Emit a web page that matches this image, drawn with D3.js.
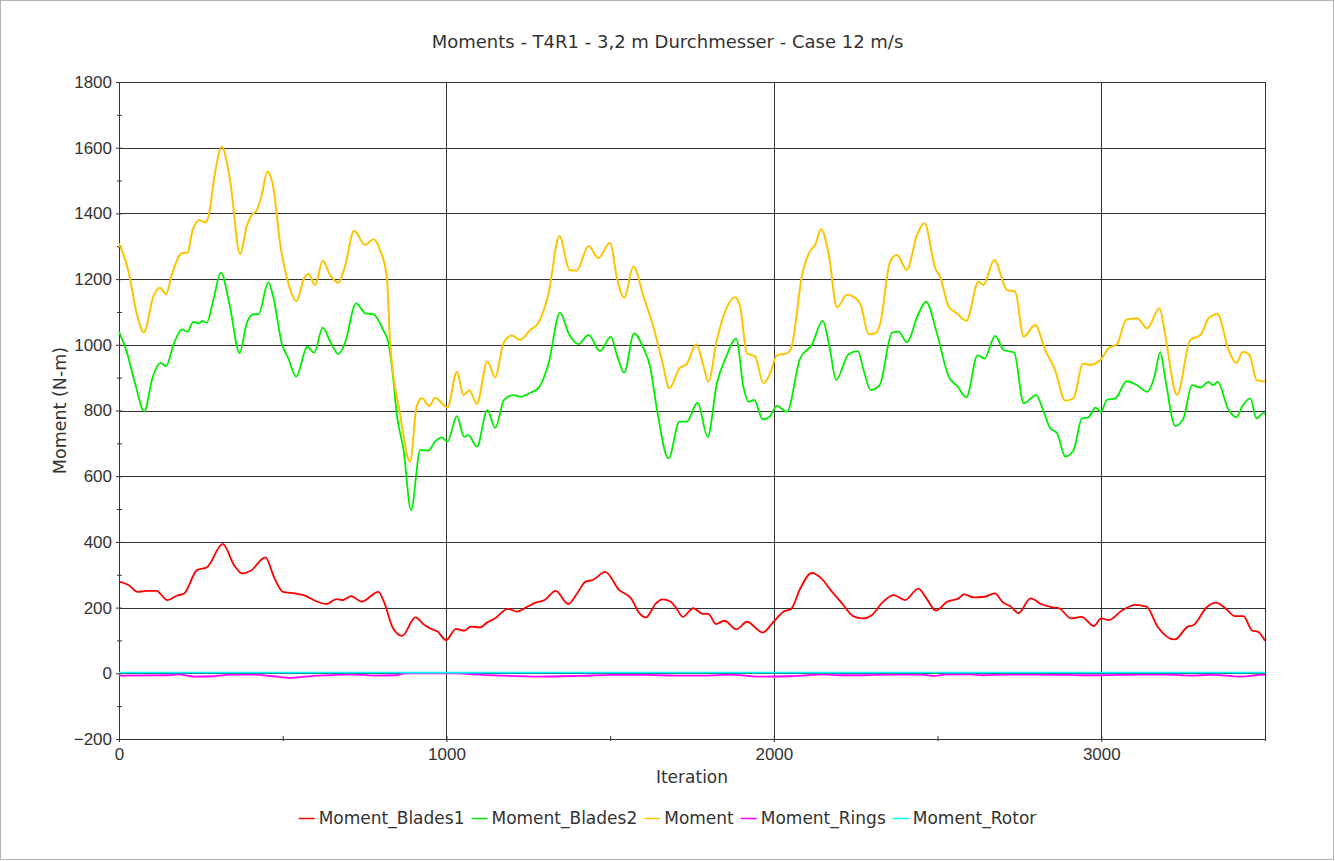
<!DOCTYPE html>
<html>
<head>
<meta charset="utf-8">
<script src="https://cdn.jsdelivr.net/npm/d3@7"></script>
<style>
  body { margin: 0; background: #fff; }
  svg { display: block; font-family: "DejaVu Sans", sans-serif; }
  .axis path { display: none; }
  .axis line { stroke: #333; }
  .axis text { fill: #333; font-size: 17px; }
</style>
</head>
<body>
<div id="chart"></div>
<script>
// ticks
var iterTicks = [0, 1000, 2000, 3000];
var iterMinor = [500, 1500, 2500, 3500];
var momentTicks = [-200, 0, 200, 400, 600, 800, 1000, 1200, 1400, 1600, 1800];

var seriesNames = ['Moment_Blades1', 'Moment_Blades2', 'Moment', 'Moment_Rings', 'Moment_Rotor'];
var seriesColors = ['#ff0000', '#00ee00', '#ffc400', '#ff00ff', '#00ffff'];

// [iteration, moment]
var blades1 = [[0,279],[29,269],[57,248],[86,251],[114,251],[148,223],[176,236],[199,243],[238,314],[269,323],[317,394],[351,330],[377,304],[402,312],[447,353],[475,289],[501,248],[538,243],[572,235],[600,220],[634,211],[664,226],[685,223],[709,235],[741,218],[792,248],[809,218],[837,137],[865,114],[905,170],[933,147],[956,134],[973,127],[999,101],[1029,135],[1055,130],[1074,142],[1103,140],[1125,155],[1148,167],[1188,196],[1216,188],[1244,201],[1272,215],[1300,223],[1334,251],[1372,211],[1399,243],[1425,279],[1447,284],[1485,309],[1527,254],[1564,228],[1589,183],[1609,170],[1640,213],[1659,225],[1685,218],[1702,198],[1722,172],[1754,198],[1783,181],[1800,181],[1823,150],[1849,160],[1886,134],[1918,157],[1966,124],[1999,157],[2030,188],[2052,195],[2081,259],[2116,306],[2145,289],[2173,254],[2208,213],[2242,174],[2271,167],[2299,177],[2334,218],[2366,238],[2401,223],[2441,258],[2466,228],[2495,191],[2529,218],[2564,228],[2581,240],[2610,231],[2644,233],[2674,243],[2701,215],[2724,203],[2747,183],[2784,228],[2816,211],[2851,201],[2871,198],[2908,167],[2940,172],[2977,144],[3000,167],[3023,162],[3063,191],[3104,208],[3138,203],[3172,142],[3224,103],[3264,142],[3282,147],[3322,201],[3350,215],[3379,198],[3408,174],[3434,174],[3461,130],[3478,127],[3500,99]];

var blades2 = [[0,1040],[24,977],[49,883],[77,798],[103,902],[127,945],[144,935],[166,999],[192,1047],[209,1040],[227,1070],[245,1065],[253,1073],[268,1067],[288,1136],[311,1220],[339,1116],[368,974],[390,1065],[410,1093],[426,1093],[456,1190],[471,1147],[497,1005],[517,959],[541,903],[575,994],[596,976],[622,1052],[645,1010],[670,972],[690,1005],[724,1126],[752,1096],[777,1093],[807,1045],[823,1005],[838,893],[848,792],[869,680],[892,497],[920,680],[945,678],[965,705],[986,718],[1003,705],[1032,783],[1054,720],[1067,725],[1093,690],[1125,801],[1149,747],[1176,832],[1205,847],[1225,842],[1256,854],[1281,868],[1312,944],[1347,1098],[1373,1035],[1403,1002],[1434,1030],[1469,981],[1502,1025],[1522,964],[1543,915],[1573,1035],[1602,989],[1622,934],[1643,803],[1678,654],[1712,766],[1734,766],[1767,824],[1798,720],[1826,883],[1854,963],[1885,1019],[1907,873],[1922,827],[1940,832],[1966,773],[1987,781],[2009,814],[2040,796],[2080,958],[2116,1000],[2149,1073],[2170,994],[2190,893],[2228,971],[2257,981],[2274,923],[2296,862],[2323,877],[2361,1037],[2381,1040],[2406,1008],[2442,1096],[2465,1131],[2498,1035],[2534,903],[2561,873],[2588,840],[2622,968],[2643,958],[2676,1027],[2702,984],[2734,976],[2763,822],[2801,847],[2822,802],[2844,746],[2865,731],[2890,660],[2915,678],[2941,776],[2961,779],[2982,809],[2999,796],[3017,832],[3043,837],[3078,889],[3109,877],[3140,857],[3162,902],[3180,978],[3196,893],[3226,753],[3251,776],[3277,877],[3303,870],[3328,887],[3341,877],[3355,887],[3389,802],[3412,779],[3433,817],[3455,837],[3474,776],[3496,793],[3500,788]];

var moment = [[0,1309],[28,1228],[54,1096],[76,1038],[105,1147],[125,1174],[144,1154],[161,1212],[192,1279],[209,1280],[225,1350],[247,1380],[263,1372],[273,1390],[293,1522],[314,1603],[339,1502],[370,1276],[390,1360],[405,1395],[421,1410],[436,1456],[453,1527],[471,1481],[492,1309],[512,1207],[543,1133],[563,1197],[578,1216],[599,1182],[622,1256],[645,1212],[670,1189],[690,1238],[718,1347],[752,1304],[777,1321],[797,1289],[818,1207],[828,1005],[858,792],[889,644],[909,812],[925,837],[948,814],[965,839],[981,827],[1003,809],[1032,918],[1052,847],[1070,862],[1093,820],[1125,949],[1149,901],[1174,1005],[1200,1028],[1225,1015],[1256,1045],[1281,1067],[1312,1157],[1345,1331],[1376,1228],[1398,1226],[1434,1301],[1464,1264],[1500,1311],[1520,1207],[1543,1143],[1571,1238],[1602,1147],[1632,1055],[1658,954],[1681,868],[1712,929],[1734,942],[1763,1002],[1783,944],[1800,888],[1826,1015],[1851,1101],[1882,1145],[1897,1116],[1918,974],[1943,964],[1968,883],[1989,913],[2009,968],[2040,974],[2055,998],[2086,1211],[2111,1286],[2126,1304],[2144,1352],[2167,1279],[2193,1114],[2223,1152],[2249,1142],[2264,1125],[2290,1032],[2310,1035],[2325,1065],[2355,1253],[2376,1273],[2406,1228],[2437,1334],[2460,1370],[2493,1233],[2508,1207],[2534,1116],[2559,1096],[2588,1073],[2625,1192],[2640,1182],[2673,1258],[2712,1167],[2737,1162],[2763,1025],[2798,1060],[2829,984],[2859,923],[2890,830],[2915,837],[2944,942],[2966,939],[2997,954],[3022,989],[3048,1002],[3076,1076],[3109,1081],[3140,1050],[3178,1111],[3196,1025],[3231,847],[3272,1015],[3303,1030],[3328,1081],[3355,1094],[3389,984],[3412,944],[3433,979],[3453,969],[3474,893],[3500,888]];

var rings = [[0,-7],[150,-6],[180,-3],[230,-10],[290,-9],[340,-4],[410,-4],[470,-9],[525,-14],[570,-10],[640,-6],[710,-3],[780,-7],[840,-6],[880,0],[1030,0],[1080,-3],[1170,-7],[1280,-10],[1400,-8],[1500,-5],[1600,-5],[1714,-7],[1800,-7],[1860,-4],[1960,-10],[2050,-9],[2100,-6],[2150,-3],[2200,-6],[2270,-6],[2350,-4],[2450,-4],[2490,-8],[2520,-4],[2600,-3],[2640,-6],[2700,-4],[2800,-4],[2900,-5],[2950,-6],[3050,-5],[3120,-4],[3200,-4],[3280,-7],[3330,-5],[3380,-7],[3430,-10],[3470,-6],[3500,-4]];

var rotor = [[0,2],[500,2],[1000,2],[1500,2],[2000,2],[2500,2],[3000,2],[3500,2]];

var allSeries = [blades1, blades2, moment, rings, rotor];

var W = 1335, H = 861;
var margin = {top: 82, right: 70, bottom: 122, left: 119};
var width = W - margin.left - margin.right;
var height = H - margin.top - margin.bottom;

var x = d3.scaleLinear().domain([0, 3500]).range([0, width]);
var y = d3.scaleLinear().domain([-200, 1800]).range([height, 0]);

var svg = d3.select("#chart").append("svg")
    .attr("width", W)
    .attr("height", H);

// outer frame
svg.append("rect")
    .attr("x", 0.5).attr("y", 0.5)
    .attr("width", W - 2).attr("height", H - 2)
    .attr("fill", "none").attr("stroke", "#b4b4b4");

svg.append("text")
    .attr("x", W / 2).attr("y", 48)
    .attr("text-anchor", "middle")
    .attr("fill", "#333")
    .style("font-size", "18px")
    .text("Moments - T4R1 - 3,2 m Durchmesser - Case 12 m/s");

var g = svg.append("g")
    .attr("transform", "translate(" + margin.left + "," + margin.top + ")");

// grid
g.append("g").selectAll("line").data(momentTicks).enter().append("line")
    .attr("x1", 0).attr("x2", width)
    .attr("y1", d => Math.round(y(d)) + 0.5).attr("y2", d => Math.round(y(d)) + 0.5)
    .attr("stroke", "#333");
g.append("g").selectAll("line").data(iterTicks).enter().append("line")
    .attr("y1", 0).attr("y2", height)
    .attr("x1", d => Math.round(x(d)) + 0.5).attr("x2", d => Math.round(x(d)) + 0.5)
    .attr("stroke", "#333");

g.append("rect")
    .attr("x", 0.5).attr("y", 0.5)
    .attr("width", width).attr("height", height)
    .attr("fill", "none").attr("stroke", "#333");

// axes
var fmt = d3.format("d");
var yMinor = d3.range(-100, 1800, 200);
g.append("g").attr("class", "axis")
    .call(d3.axisLeft(y).tickValues(momentTicks).tickFormat(fmt).tickSize(3).tickPadding(4))
    .selectAll(".tick line").attr("x1", 3);
g.append("g").attr("class", "axis")
    .call(d3.axisLeft(y).tickValues(yMinor).tickSize(2).tickFormat(""))
    .selectAll(".tick line").attr("x1", 3);

g.append("g").attr("class", "axis")
    .attr("transform", "translate(0," + height + ")")
    .call(d3.axisBottom(x).tickValues(iterTicks).tickFormat(fmt).tickSize(3).tickPadding(6))
    .selectAll(".tick line").attr("y1", -3);
g.append("g").attr("class", "axis")
    .attr("transform", "translate(0," + height + ")")
    .call(d3.axisBottom(x).tickValues(iterMinor).tickSize(2).tickFormat(""))
    .selectAll(".tick line").attr("y1", -3);

// lines
var line = d3.line()
    .x(d => x(d[0]))
    .y(d => y(d[1]))
    .curve(d3.curveMonotoneX);

allSeries.forEach(function(s, i) {
    g.append("path")
        .datum(s)
        .attr("fill", "none")
        .attr("stroke", seriesColors[i])
        .attr("stroke-width", i == 2 ? 2 : 1.8)
        .attr("d", line);
});

// axis titles
svg.append("text")
    .attr("x", margin.left + width / 2).attr("y", 783)
    .attr("text-anchor", "middle").attr("fill", "#333")
    .style("font-size", "17px")
    .text("Iteration");

svg.append("text")
    .attr("transform", "translate(66," + (margin.top + height / 2) + ") rotate(-90)")
    .attr("text-anchor", "middle").attr("fill", "#333")
    .style("font-size", "17.5px")
    .text("Moment (N-m)");

// legend
var legend = svg.append("g");
var lx = 0;
seriesNames.forEach(function(name, i) {
    var item = legend.append("g").attr("transform", "translate(" + lx + ",0)");
    item.append("line")
        .attr("x1", 0).attr("x2", 16)
        .attr("y1", 0.5).attr("y2", 0.5)
        .attr("stroke", seriesColors[i]).attr("stroke-width", 1.5);
    var t = item.append("text")
        .attr("x", 20).attr("y", 6)
        .attr("fill", "#333")
        .style("font-size", "17px")
        .text(name);
    lx += 20 + t.node().getComputedTextLength() + 7;
});
legend.attr("transform", "translate(" + (W / 2 - (lx - 7) / 2) + ",818)");
</script>
</body>
</html>
